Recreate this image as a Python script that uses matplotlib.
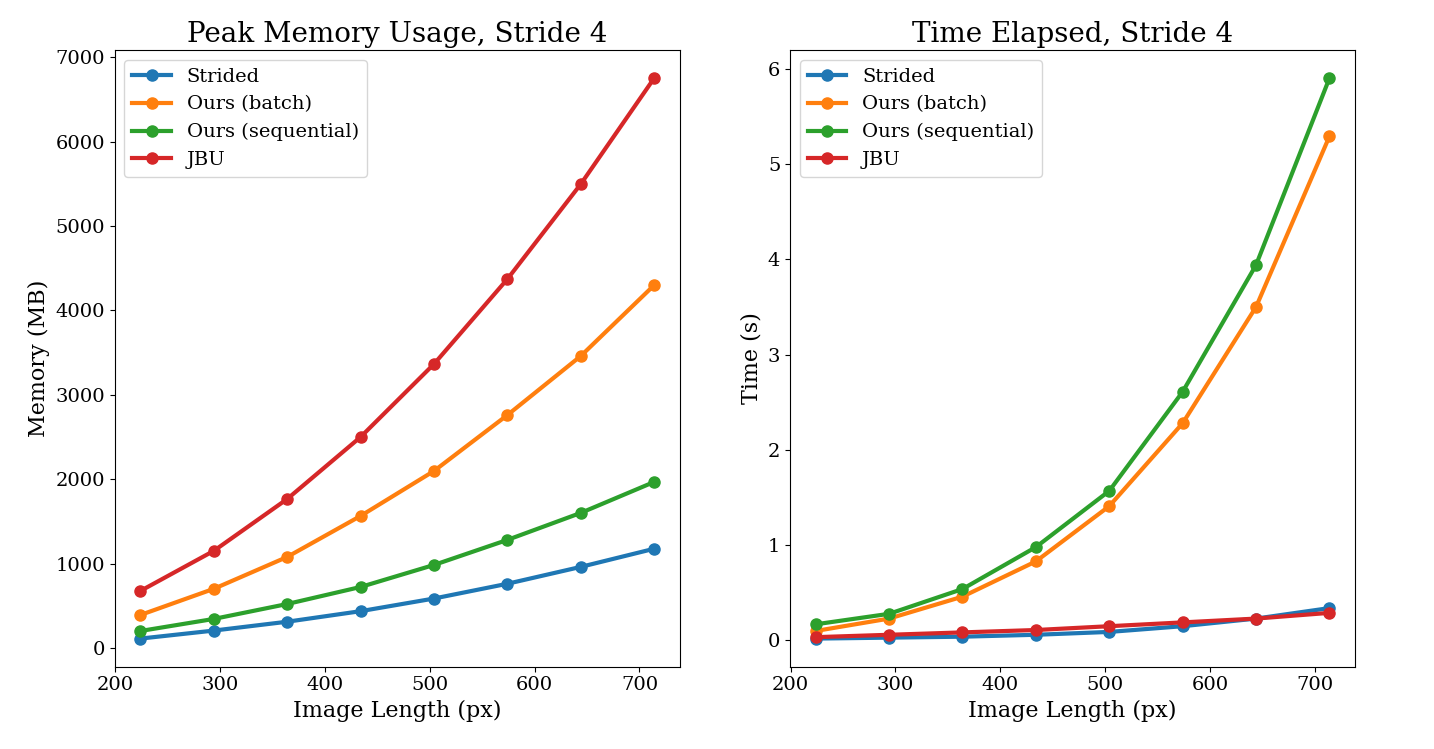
import numpy as np
import matplotlib.pyplot as plt

plt.rcParams['font.family'] = 'DejaVu Serif'

# image lengths (px)
lengths = [224, 294, 364, 434, 504, 574, 644, 714]

# peak memory (MB)
mem_strided = [110, 205, 310, 435, 585, 760, 960, 1175]
mem_batch = [390, 700, 1078, 1564, 2097, 2760, 3460, 4300]
mem_seq = [200, 343, 520, 722, 983, 1280, 1600, 1967]
mem_jbu = [675, 1150, 1765, 2500, 3365, 4372, 5498, 6754]

# time elapsed (s)
time_strided = [0.02, 0.03, 0.04, 0.06, 0.09, 0.15, 0.23, 0.34]
time_batch = [0.10, 0.23, 0.46, 0.83, 1.41, 2.28, 3.50, 5.29]
time_seq = [0.17, 0.28, 0.54, 0.98, 1.57, 2.61, 3.94, 5.90]
time_jbu = [0.035, 0.06, 0.085, 0.11, 0.15, 0.19, 0.23, 0.29]

labels = ["Strided", "Ours (batch)", "Ours (sequential)", "JBU"]

fig, (ax1, ax2) = plt.subplots(1, 2, figsize=(14.34, 7.49), dpi=100)
fig.subplots_adjust(left=0.08, right=0.945, bottom=0.11, top=0.933, wspace=0.195)

for ax, series, title, ylabel in [
    (ax1, [mem_strided, mem_batch, mem_seq, mem_jbu], "Peak Memory Usage, Stride 4", "Memory (MB)"),
    (ax2, [time_strided, time_batch, time_seq, time_jbu], "Time Elapsed, Stride 4", "Time (s)"),
]:
    for vals, lab in zip(series, labels):
        ax.plot(lengths, vals, marker='o', linewidth=3, markersize=8, label=lab)
    ax.set_title(title, fontsize=20)
    ax.set_xlabel("Image Length (px)", fontsize=16)
    ax.set_ylabel(ylabel, fontsize=16)
    ax.tick_params(labelsize=14)
    ax.legend(fontsize=14, loc='upper left')

fig.savefig("out.png")
